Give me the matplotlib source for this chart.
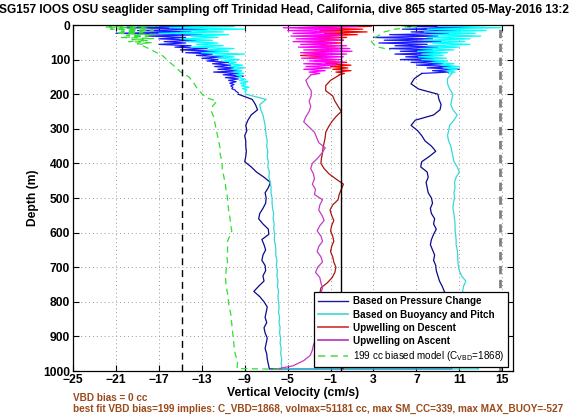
import numpy as np
import matplotlib
matplotlib.use("Agg")
import matplotlib.pyplot as plt
from matplotlib.lines import Line2D

plt.rcParams['font.family'] = ['Liberation Sans', 'DejaVu Sans']

# ---------------- data ----------------
# near-surface (noisy) depths
depth_desc_top = np.arange(0, 200, 4)          # 0..196
depth_asc_top = np.arange(0, 144, 4)           # 0..140
depth_ud_top = np.arange(0, 148, 4)            # 0..144

w_press_desc_top = [-23, -13, -20, -12.5, -19, -14, -21, -13, -18, -14.5, -17, -13.5, -16.5, -14.5,
                    -17, -14, -15.5, -12.5, -15, -11.5, -14.5, -12, -13.5, -11, -13, -11.5, -12.5,
                    -10.5, -12, -10.3, -11.8, -10, -11.5, -9.3, -11.9, -9.5, -11, -9.1, -10.8, -9.6,
                    -10.5, -9.8, -10.4, -10.0, -10.3, -10.1, -10.2, -9.9, -9.8, -9.6]
w_buoy_desc_top = [-22, -10, -16, -9, -15, -11, -17, -10.5, -14, -11.5, -15, -12, -14.5, -11.5,
                   -13.5, -11, -14, -10, -12.5, -10.5, -13, -9, -12, -10, -11.5, -9.5, -11, -9.8,
                   -10.5, -9.2, -10.4, -9.0, -10.2, -9.3, -10.0, -9.1, -9.8, -9.3, -9.6, -9.0,
                   -9.5, -8.7, -9.4, -8.9, -9.3, -8.6, -9.2, -8.8, -9.0, -8.9]
w_press_asc_top = [14.5, 6, 12, 5.7, 11, 6.5, 10, 4.5, 9, 3, 8.5, 4, 9.3, 3.5, 8, 5, 9, 4.5, 8.5,
                   5.5, 9.3, 5, 8.8, 6, 9, 5.5, 9.2, 6.5, 9.5, 7, 10.5, 8, 11, 8.5, 10, 7.5]
w_buoy_asc_top = [15.2, 9, 14.9, 8, 13.5, 7.7, 12.5, 8.5, 13, 8, 12, 7.7, 11.5, 8.5, 12, 8, 11,
                  7.5, 10.5, 7.1, 9.9, 7.5, 9.5, 7.2, 9.8, 7.5, 9.9, 8.5, 10.5, 9.3, 11, 9.5,
                  10.8, 9.8, 10.6, 10.0]
upw_desc_top = [-6.5, 2.8, -4, 2.0, -2, 2.4, -1.6, 1.5, -3, 0.5, -2.5, 0.2, -3.3, 0, -2.8, -0.5,
                -3.0, 0.2, -2.5, -0.8, -3.5, -1, -3.8, -1.5, -3.0, -0.5, -2.5, 0.5, -1.5, 0.9,
                -1.0, 0.6, -0.8, 0.9, -0.5, 0.3, -0.2]
upw_asc_top = [-6.0, 1.5, -5.4, 0, -5.0, -0.5, -4.5, 0.2, -4.7, -0.3, -4.2, 0.2, -4.5, -0.5, -3.8,
               0.5, -4.0, 0.8, -3.5, 1.0, -3.8, 0.5, -3.2, 0.2, -3.7, 0, -3.0, 0.3, -3.5, -0.5,
               -3.3, -1.0, -3.5, -1.5, -3.0, -2.0, -2.85]

# deeper (smoother) profiles
depth_desc_deep = [200, 215, 230, 245, 260, 275, 290, 305, 320, 335, 350, 365, 380, 395, 410, 425,
                   440, 455, 470, 485, 500, 515, 530, 545, 560, 575, 590, 605, 620, 635, 650, 665,
                   680, 695, 710, 725, 740, 755, 770, 785, 800, 815, 830, 845, 860, 875, 890, 905,
                   920, 935, 950, 965, 980, 994]
w_press_desc_deep = [-9.6, -8.3, -8.0, -7.8, -8.4, -8.7, -8.9, -8.8, -9.0, -8.9, -8.9, -8.85, -8.9,
                     -9.0, -8.4, -7.9, -7.2, -6.6, -6.8, -7.1, -7.0, -7.05, -7.3, -7.6, -7.7, -7.3,
                     -6.8, -6.75, -7.4, -7.2, -7.05, -7.3, -7.4, -7.1, -7.05, -7.3, -7.2, -7.7,
                     -8.15, -7.6, -7.2, -6.9, -7.0, -7.1, -6.95, -7.2, -7.1, -6.9, -7.0, -7.1,
                     -6.95, -6.9, -6.8, -6.7]
w_buoy_desc_deep = [-8.9, -7.0, -7.6, -7.5, -7.3, -7.2, -7.1, -7.05, -7.0, -6.9, -6.95, -6.85,
                    -6.9, -6.8, -6.85, -6.7, -6.75, -6.6, -6.55, -6.55, -6.45, -6.45, -6.4, -6.3,
                    -6.35, -6.25, -6.3, -6.2, -6.25, -6.15, -6.1, -6.1, -6.0, -6.05, -5.95, -6.0,
                    -5.9, -5.95, -5.85, -5.9, -5.85, -5.8, -5.85, -5.75, -5.8, -5.7, -5.75, -5.65,
                    -5.7, -5.6, -5.65, -5.55, -5.6, -5.5]

depth_asc_deep = [140, 155, 170, 185, 200, 215, 230, 245, 260, 275, 290, 305, 320, 335, 350, 365,
                  380, 395, 410, 425, 440, 455, 470, 485, 500, 515, 530, 545, 560, 575, 590, 605,
                  620, 635, 650, 665, 680, 695, 710, 725, 740, 755, 770, 785, 800, 815, 830, 845,
                  860, 875, 890, 905, 920, 935, 950, 965, 980, 994]
w_press_asc_deep = [7.5, 6.8, 6.5, 7.2, 9.0, 9.1, 9.3, 9.2, 8.6, 6.9, 6.5, 7.1, 7.5, 7.8, 8.4, 8.8,
                    8.2, 7.5, 7.4, 8.0, 8.1, 7.9, 8.0, 8.1, 8.4, 8.5, 8.3, 8.4, 8.7, 8.6, 8.85, 8.6,
                    8.4, 8.3, 8.5, 8.7, 8.6, 8.8, 8.85, 9.0, 9.15, 9.4, 9.6, 9.8, 9.7, 9.8, 9.9,
                    9.8, 9.9, 10.0, 9.9, 10.0, 10.1, 10.0, 10.1, 10.0, 10.2, 10.3]
w_buoy_asc_deep = [10.3, 9.9, 9.9, 10.1, 10.4, 10.3, 10.2, 10.4, 10.8, 10.5, 10.1, 10.0, 9.9, 10.0,
                   10.2, 10.3, 10.4, 10.5, 10.8, 11.0, 10.7, 10.55, 10.6, 10.5, 10.55, 10.45, 10.4,
                   10.5, 10.55, 10.6, 10.6, 10.65, 10.7, 10.7, 10.8, 10.85, 10.85, 10.9, 11.0,
                   11.2, 11.6, 11.4, 11.3, 11.45, 11.3, 11.4, 11.5, 11.4, 11.6, 11.5, 11.7, 11.6,
                   11.8, 11.7, 11.9, 12.0, 12.3, 12.8]

depth_upw_deep = [145, 160, 175, 190, 205, 220, 235, 250, 265, 280, 295, 310, 325, 340, 355, 370,
                  385, 400, 415, 430, 445, 460, 475, 490, 505, 520, 535, 550, 565, 580, 595, 610,
                  625, 640, 655, 670, 685, 700, 715, 730, 745, 760, 775, 790, 805, 820, 835, 850,
                  865, 880, 895, 910, 925, 940, 955, 970, 985, 994]
upw_desc_deep = [-0.2, -1.0, -1.45, -1.45, -0.8, -0.6, -0.3, 0.0, -0.5, -0.9, -1.2, -1.45, -1.5,
                 -1.6, -1.7, -1.75, -1.85, -1.9, -1.6, -1.15, -0.5, 0.2, 0.0, -0.2, -0.3, -0.8,
                 -1.05, -0.9, -0.7, -0.9, -1.0, -0.8, -0.7, -0.9, -1.0, -0.8, -0.7, -0.5, -0.6,
                 -0.85, -1.3, -1.9, -2.0, -1.8, -1.6, -1.4, -1.2, -1.0, -0.9, -0.8, -0.7, -0.6,
                 -0.5, -0.4, -0.3, -0.2, -0.1, 0.2]
upw_asc_deep = [-2.85, -3.3, -3.1, -2.8, -2.8, -3.0, -2.85, -3.0, -3.3, -3.5, -3.0, -2.5, -2.3,
                -2.1, -1.5, -1.8, -2.2, -2.7, -2.85, -2.6, -2.5, -2.7, -2.4, -2.5, -1.75, -2.0,
                -2.1, -1.8, -1.6, -2.0, -2.25, -1.9, -1.75, -2.1, -2.25, -1.9, -1.75, -2.2, -2.4,
                -2.0, -1.9, -1.75, -1.9, -2.0, -2.1, -2.0, -2.2, -2.3, -2.2, -2.4, -2.5, -2.4,
                -2.6, -2.7, -2.9, -3.5, -4.5, -6.0]

depth_model_top = [0, 3, 6, 9, 12, 15, 18, 21, 24, 27, 30, 33, 36, 39, 42, 45, 48, 51, 54, 57]
model_desc_top = [-24.5, -17, -22, -18, -21.5, -17.5, -20.5, -18.5, -21, -17.3, -20, -18, -20.6,
                  -17.5, -19.5, -18, -19.8, -17.6, -19, -18.2]
depth_model_deep = [60, 75, 90, 105, 120, 135, 150, 165, 180, 195, 210, 220, 235, 250, 265, 280,
                    295, 310, 325, 340, 355, 370, 385, 400, 415, 430, 445, 460, 475, 490, 505, 520,
                    535, 550, 565, 580, 595, 610, 625, 640, 655, 670, 685, 700, 715, 730, 745, 760,
                    775, 790, 805, 820, 835, 850, 865, 880, 895, 910, 925, 940, 955, 970, 985, 993,
                    995]
model_desc_deep = [-18.5, -17.5, -16.6, -16.1, -15.5, -15.0, -14.2, -13.8, -13.5, -13.1, -12.6,
                   -11.6, -12.0, -12.1, -11.9, -11.8, -11.7, -11.6, -11.5, -11.4, -11.3, -11.3,
                   -11.2, -11.1, -11.1, -11.0, -10.9, -10.8, -10.75, -10.65, -10.6, -10.55, -10.5,
                   -10.4, -10.35, -10.3, -10.2, -10.4, -10.6, -10.6, -10.6, -10.65, -10.6, -10.7,
                   -10.75, -10.8, -10.75, -10.7, -10.6, -10.55, -10.5, -10.4, -10.3, -10.25, -10.2,
                   -10.15, -10.1, -10.05, -10.0, -9.95, -9.85, -9.65, -9.7, -9.7, -5.3]
depth_model_asc = [0, 2, 6, 12, 20, 30, 40, 48, 55, 62, 72]
model_asc = [8.6, 5.6, 7.0, 5.0, 4.0, 3.5, 2.9, 2.8, 3.0, 3.2, 4.6]

vbd_limits = [-14.8, 14.8]

x_ticks = [-25, -21, -17, -13, -9, -5, -1, 3, 7, 11, 15]
y_ticks = [0, 100, 200, 300, 400, 500, 600, 700, 800, 900, 1000]

title = "SG157 IOOS OSU seaglider sampling off Trinidad Head, California, dive 865 started 05-May-2016 13:2"
legend_labels = ["Based on Pressure Change", "Based on Buoyancy and Pitch",
                 "Upwelling on Descent", "Upwelling on Ascent",
                 "199 cc biased model (C$_{\\mathrm{VBD}}$=1868)"]
note1 = "VBD bias = 0 cc"
note2 = ("best fit VBD bias=199 implies: C_VBD=1868, volmax=51181 cc, "
         "max SM_CC=339, max MAX_BUOY=-527")

# ---------------- figure ----------------
W, H = 570, 415
fig = plt.figure(figsize=(W / 100, H / 100), dpi=100)
L, R, T, B = 73, 513, 25, 371
ax = fig.add_axes([L / W, 1 - B / H, (R - L) / W, (B - T) / H])

navy, blue = '#0a0a8c', '#1a1aff'
cyan_d, cyan_b = '#38d8d8', '#00ffff'
red_d, red_b = '#a8140f', '#ff0000'
mag_d, mag_b = '#c43cc4', '#ff00ff'
green = '#33dd33'
lw = 0.9

# pressure-based
ax.plot(w_press_desc_top, depth_desc_top, color=blue, lw=lw)
ax.plot(w_press_asc_top, depth_asc_top, color=blue, lw=lw)
ax.plot(np.r_[w_press_desc_deep, w_press_asc_deep[::-1]],
        np.r_[depth_desc_deep, depth_asc_deep[::-1]], color=navy, lw=lw)
# buoyancy-based
ax.plot(w_buoy_desc_top, depth_desc_top, color=cyan_b, lw=lw)
ax.plot(w_buoy_asc_top, depth_asc_top, color=cyan_b, lw=lw)
ax.plot(np.r_[w_buoy_desc_deep, w_buoy_asc_deep[::-1]],
        np.r_[depth_desc_deep, depth_asc_deep[::-1]], color=cyan_d, lw=lw)
# upwelling
ax.plot(upw_desc_top, depth_ud_top, color=red_b, lw=lw)
ax.plot(upw_desc_deep, depth_upw_deep, color=red_d, lw=lw)
ax.plot(upw_asc_top, depth_ud_top, color=mag_b, lw=lw)
ax.plot(upw_asc_deep, depth_upw_deep, color=mag_d, lw=lw)
# model
ax.plot(model_desc_top, depth_model_top, color=green, lw=lw, ls=(0, (5, 3.5)))
ax.plot(model_desc_deep, depth_model_deep, color=green, lw=lw, ls=(0, (5, 3.5)))
ax.plot(model_asc, depth_model_asc, color=green, lw=lw, ls=(0, (5, 3.5)))

ax.axvline(0, color='black', lw=1.0)
ax.axvline(vbd_limits[0], color='black', lw=1.0, ls=(0, (5, 3.5)))
ax.axvline(vbd_limits[1], color='#808080', lw=2.0, ls=(0, (3, 2)))

ax.set_xlim(-25, 16)
ax.set_ylim(1000, 0)
ax.set_xticks(x_ticks)
ax.set_yticks(y_ticks)
ax.grid(True, color='#999999', ls=(0, (1, 3)), lw=0.7)
ax.tick_params(direction='in', top=True, right=True, length=4, width=0.8,
               labelsize=8.7, pad=2)
for lab in ax.get_xticklabels() + ax.get_yticklabels():
    lab.set_fontweight('bold')
for s in ax.spines.values():
    s.set_linewidth(0.9)

ax.set_xlabel("Vertical Velocity (cm/s)", fontsize=8.7, fontweight='bold', labelpad=1)
ax.set_ylabel("Depth (m)", fontsize=8.7, fontweight='bold', labelpad=3)

handles = [Line2D([], [], color='#1a1a99', lw=1),
           Line2D([], [], color='#4fd8d8', lw=1.3),
           Line2D([], [], color='#d04040', lw=1.3),
           Line2D([], [], color='#c040c0', lw=1.3),
           Line2D([], [], color='#66dd66', lw=1.3, ls=(0, (4, 3)))]
leg = ax.legend(handles, legend_labels, loc='lower right',
                bbox_to_anchor=(1 - 5 / (R - L), 4 / (B - T)), borderaxespad=0,
                fontsize=7.1, frameon=True, fancybox=False, framealpha=1,
                edgecolor='black', handlelength=3.0, handletextpad=0.5,
                labelspacing=0.32, borderpad=0.4)
leg.get_frame().set_linewidth(0.9)
for i, t in enumerate(leg.get_texts()):
    if i < 4:
        t.set_fontweight('bold')

fig.text(-1 / W, 1 - 10 / H, title, ha='left', va='center', fontsize=8.55, fontweight='bold')
fig.text(L / W, 1 - 398 / H, note1, ha='left', va='center', fontsize=7.2,
         fontweight='bold', color='#9a4a1a')
fig.text(L / W, 1 - 409 / H, note2, ha='left', va='center', fontsize=7.2,
         fontweight='bold', color='#9a4a1a')

fig.savefig("out.png", dpi=100)
